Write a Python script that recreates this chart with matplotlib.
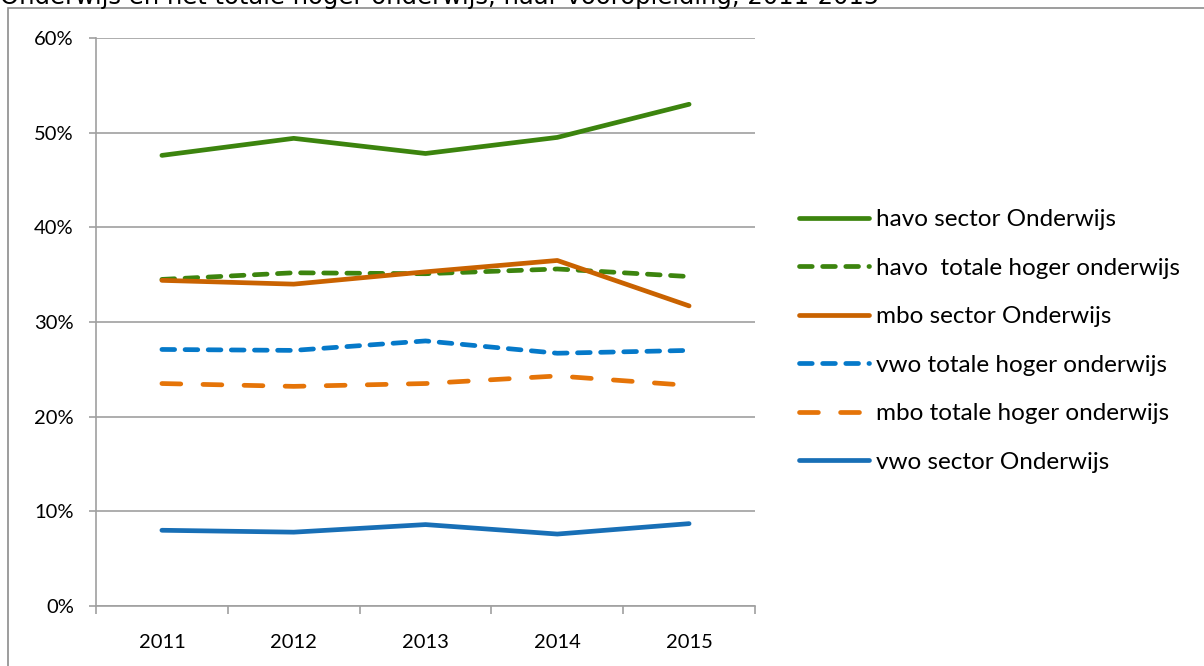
import matplotlib
matplotlib.use('Agg')
import matplotlib.pyplot as plt
from matplotlib.patches import Rectangle
from matplotlib.ticker import FixedLocator, PercentFormatter

years = ['2011', '2012', '2013', '2014', '2015']

havo_sector = [47.6, 49.4, 47.8, 49.5, 53.0]
havo_totaal = [34.5, 35.2, 35.1, 35.6, 34.8]
mbo_sector = [34.4, 34.0, 35.3, 36.5, 31.7]
vwo_totaal = [27.1, 27.0, 28.0, 26.7, 27.0]
mbo_totaal = [23.5, 23.2, 23.5, 24.3, 23.3]
vwo_sector = [8.0, 7.8, 8.6, 7.6, 8.7]

reeksen = [
    ('havo sector Onderwijs', havo_sector, '#3C840E', None),
    ('havo  totale hoger onderwijs', havo_totaal, '#3C840E', (0, (2.7, 2.2))),
    ('mbo sector Onderwijs', mbo_sector, '#C96200', None),
    ('vwo totale hoger onderwijs', vwo_totaal, '#0579C9', (0, (2.7, 2.2))),
    ('mbo totale hoger onderwijs', mbo_totaal, '#E57408', (0, (4.0, 4.7))),
    ('vwo sector Onderwijs', vwo_sector, '#186FB6', None),
]

plt.rcParams['font.family'] = ['Lato', 'DejaVu Sans']

fig = plt.figure(figsize=(12.04, 6.66), dpi=100)
ax = fig.add_axes([96 / 1204, 1 - 606 / 666, 659 / 1204, 568 / 666])

# kader om de grafiek, loopt door buiten beeld
fig.patches.append(Rectangle((8 / 1204, -0.1), 1.2, 1 - 8 / 666 + 0.1,
                             transform=fig.transFigure, fill=False,
                             edgecolor='#8c8c8c', linewidth=1.2))
fig.text(0, 1 - 4 / 666, 'Onderwijs en het totale hoger onderwijs, naar vooropleiding, 2011-2015',
         fontsize=17.5, family='DejaVu Sans', va='baseline', ha='left')

x = list(range(len(years)))
for naam, waarden, kleur, stijl in reeksen:
    ax.plot(x, waarden, color=kleur, linewidth=3.4, label=naam,
            linestyle='-' if stijl is None else stijl,
            solid_capstyle='round', dash_capstyle='round')

ax.set_xlim(-0.5, 4.5)
ax.set_ylim(0, 60)
ax.yaxis.set_major_locator(FixedLocator(range(0, 61, 10)))
ax.yaxis.set_major_formatter(PercentFormatter(decimals=0))
ax.grid(axis='y', color='#a0a0a0', linewidth=1.2)
ax.set_axisbelow(True)

ax.set_xticks(x)
ax.set_xticklabels(years)
ax.set_xticks([i - 0.5 for i in range(len(years) + 1)], minor=True)
ax.tick_params(axis='x', which='major', length=0, pad=20, labelsize=14.5)
ax.tick_params(axis='x', which='minor', length=6, width=1.2, color='#a0a0a0', direction='out')
ax.tick_params(axis='y', length=5, width=1.2, color='#a0a0a0', pad=11, labelsize=14.5)

for kant in ['top', 'right']:
    ax.spines[kant].set_visible(False)
for kant in ['left', 'bottom']:
    ax.spines[kant].set_color('#a0a0a0')
    ax.spines[kant].set_linewidth(1.2)

fig.legend(loc='center left', bbox_to_anchor=(789 / 1204, 1 - 341 / 666),
           frameon=False, fontsize=17.5, handlelength=2.9, handletextpad=0.28,
           labelspacing=1.13, borderaxespad=0)

fig.savefig('out.png', dpi=100)
